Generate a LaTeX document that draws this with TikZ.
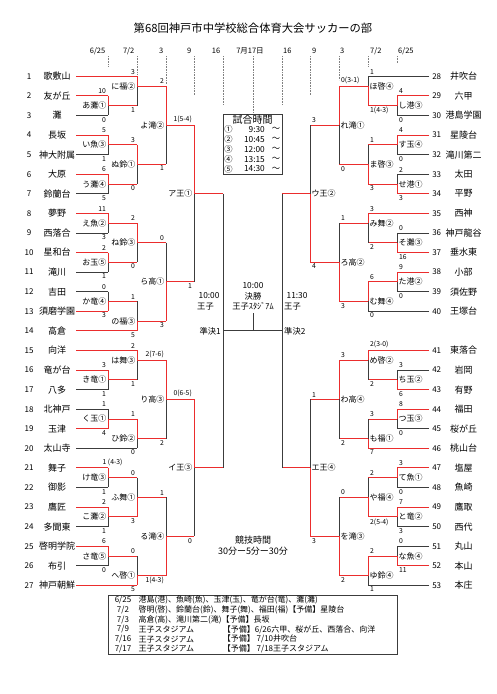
\documentclass[tikz,border=0pt]{standalone}
\usepackage{fontspec}
\setmainfont{Noto Sans CJK JP}
\definecolor{wred}{RGB}{235,45,45}
\definecolor{lgray}{RGB}{60,60,60}
\newcommand{\KY}[1]{76.3+9.79*(#1)}
% left match: xv, xout, ktop, kbot, kout, label, score top, score bottom, winner t/b
\newcommand{\LM}[9]{%
 \coordinate (L#1a#3) at (#1,{\KY{#3}});
 \coordinate (L#1o#3) at (#1,{\KY{#5}});
 \coordinate (L#1b#3) at (#1,{\KY{#4}});
 \coordinate (L#1x#3) at (#2,{\KY{#5}});
 \draw[top#9] (L#1a#3) -- (L#1o#3);
 \draw[bot#9] (L#1o#3) -- (L#1b#3);
 \draw[win] (L#1o#3) -- (L#1x#3);
 \node[mlab,anchor=east] (Lm#1n#3) at ([xshift=-1.5pt]L#1o#3) {#6};
 \node[score,anchor=south east] (Ls#1t#3) at ([xshift=-2pt,yshift=2pt]L#1a#3) {#7};
 \node[score,anchor=north east] (Ls#1b#3) at ([xshift=-2pt,yshift=-1.5pt]L#1b#3) {#8};
}
\newcommand{\RM}[9]{%
 \coordinate (R#1a#3) at (#1,{\KY{#3}});
 \coordinate (R#1o#3) at (#1,{\KY{#5}});
 \coordinate (R#1b#3) at (#1,{\KY{#4}});
 \coordinate (R#1x#3) at (#2,{\KY{#5}});
 \draw[top#9] (R#1a#3) -- (R#1o#3);
 \draw[bot#9] (R#1o#3) -- (R#1b#3);
 \draw[win] (R#1o#3) -- (R#1x#3);
 \node[mlab,anchor=west] (Rm#1n#3) at ([xshift=1.5pt]R#1o#3) {#6};
 \node[score,anchor=south west] (Rs#1t#3) at ([xshift=2pt,yshift=2pt]R#1a#3) {#7};
 \node[score,anchor=north west] (Rs#1b#3) at ([xshift=2pt,yshift=-1.5pt]R#1b#3) {#8};
}
% team: number, name, k, x end, style
\newcommand{\LT}[5]{%
 \coordinate (lt#1) at (76,{\KY{#3}});
 \coordinate (le#1) at (#4,{\KY{#3}});
 \draw[#5] (lt#1) -- (le#1);
 \node[tnum] (ln#1) at (29,{\KY{#3}}) {#1};
 \node[tname] (lna#1) at (57,{\KY{#3}}) {#2};
}
\newcommand{\RT}[5]{%
 \coordinate (rt#1) at (429,{\KY{#3}});
 \coordinate (re#1) at (#4,{\KY{#3}});
 \draw[#5] (rt#1) -- (re#1);
 \node[tnum] (rn#1) at (436.7,{\KY{#3}}) {#1};
 \node[tname] (rna#1) at (463.5,{\KY{#3}}) {#2};
}
\tikzset{
 win/.style={draw=wred, line width=0.9pt},
 lose/.style={draw=lgray, line width=0.8pt},
 topt/.style={win}, bott/.style={lose}, topb/.style={lose}, botb/.style={win},
 tnum/.style={font=\fontsize{8}{9}\selectfont, inner sep=0pt},
 tname/.style={font=\fontsize{9}{10}\selectfont, inner sep=0pt},
 mlab/.style={font=\fontsize{8}{9}\selectfont, inner sep=0pt},
 score/.style={font=\fontsize{6.8}{7}\selectfont, inner sep=0pt},
 hdr/.style={font=\fontsize{7.5}{8}\selectfont, inner sep=0pt},
 mid/.style={font=\fontsize{8.3}{9}\selectfont, inner sep=0pt},
 tbltext/.style={font=\fontsize{8}{9}\selectfont, inner sep=0pt},
 tick/.style={draw=gray, densely dotted, line width=0.6pt},
 frame/.style={draw=lgray, line width=0.8pt, inner sep=0pt, anchor=north west},
}
\begin{document}
\begin{tikzpicture}[x=1pt,y=-1pt]
\fill[white] (0,0) rectangle (496,694);
\useasboundingbox (0,0) rectangle (496,694);

% title
\node[font=\fontsize{11.3}{12}\selectfont, inner sep=0pt] (title) at (253,28) {第68回神戸市中学校総合体育大会サッカーの部};

% header dates
\node[hdr,anchor=east] (h1) at (105.5,51) {6/25};
\node[hdr,anchor=east] (h2) at (134.5,51) {7/2};
\node[hdr,anchor=east] (h3) at (163.5,51) {3};
\node[hdr,anchor=east] (h4) at (191.5,51) {9};
\node[hdr,anchor=east] (h5) at (220.5,51) {16};
\node[hdr] (h6) at (250,51) {7月17日};
\node[hdr,anchor=west] (h7) at (283,51) {16};
\node[hdr,anchor=west] (h8) at (312,51) {9};
\node[hdr,anchor=west] (h9) at (340,51) {3};
\node[hdr,anchor=west] (h10) at (370,51) {7/2};
\node[hdr,anchor=west] (h11) at (398,51) {6/25};

% dotted ticks
\draw[tick] (108,56) -- (108,67);
\draw[tick] (137,56) -- (137,74);
\draw[tick] (166,56) -- (166,84);
\draw[tick] (194,56) -- (194,95);
\draw[tick] (223,56) -- (223,105);
\draw[tick] (253,56) -- (253,113.5);
\draw[tick] (282,56) -- (282,105);
\draw[tick] (310,56) -- (310,95);
\draw[tick] (339,56) -- (339,80);
\draw[tick] (368,56) -- (368,67);
\draw[tick] (397,56) -- (397,63);

% left teams
\LT{1}{歌敷山}{0}{137}{win}
\LT{2}{友が丘}{2}{108}{win}
\LT{3}{灘}{4}{108}{lose}
\LT{4}{長坂}{6}{108}{win}
\LT{5}{神大附属}{8}{108}{lose}
\LT{6}{大原}{10}{108}{win}
\LT{7}{鈴蘭台}{12}{108}{lose}
\LT{8}{夢野}{14}{108}{win}
\LT{9}{西落合}{16}{108}{lose}
\LT{10}{星和台}{18}{108}{win}
\LT{11}{滝川}{20}{108}{lose}
\LT{12}{吉田}{22}{108}{lose}
\LT{13}{須磨学園}{24}{108}{win}
\LT{14}{高倉}{26}{137}{win}
\LT{15}{向洋}{28}{137}{win}
\LT{16}{竜が台}{30}{108}{win}
\LT{17}{八多}{32}{108}{lose}
\LT{18}{北神戸}{34}{108}{lose}
\LT{19}{玉津}{36}{108}{win}
\LT{20}{太山寺}{38}{137}{lose}
\LT{21}{舞子}{40}{108}{win}
\LT{22}{御影}{42}{108}{lose}
\LT{23}{鷹匠}{44}{108}{win}
\LT{24}{多聞東}{46}{108}{lose}
\LT{25}{啓明学院}{48}{108}{win}
\LT{26}{布引}{50}{108}{lose}
\LT{27}{神戸朝鮮}{52}{137}{win}

% right teams
\RT{28}{井吹台}{0}{368}{lose}
\RT{29}{六甲}{2}{397}{win}
\RT{30}{港島学園}{4}{397}{lose}
\RT{31}{星陵台}{6}{397}{win}
\RT{32}{滝川第二}{8}{397}{lose}
\RT{33}{太田}{10}{397}{lose}
\RT{34}{平野}{12}{397}{win}
\RT{35}{西神}{14}{368}{win}
\RT{36}{神戸龍谷}{16}{397}{lose}
\RT{37}{垂水東}{18}{397}{win}
\RT{38}{小部}{20}{397}{win}
\RT{39}{須佐野}{22}{397}{lose}
\RT{40}{王塚台}{24}{368}{lose}
\RT{41}{東落合}{28}{368}{win}
\RT{42}{岩岡}{30}{397}{lose}
\RT{43}{有野}{32}{397}{win}
\RT{44}{福田}{34}{397}{win}
\RT{45}{桜が丘}{36}{397}{lose}
\RT{46}{桃山台}{38}{368}{win}
\RT{47}{塩屋}{40}{397}{win}
\RT{48}{魚崎}{42}{397}{lose}
\RT{49}{鷹取}{44}{397}{win}
\RT{50}{西代}{46}{397}{lose}
\RT{51}{丸山}{48}{397}{lose}
\RT{52}{本山}{50}{397}{win}
\RT{53}{本庄}{52}{368}{lose}

% left round 1
\LM{108}{137}{2}{4}{3}{あ灘①}{10}{0}{t}
\LM{108}{137}{6}{8}{7}{い魚③}{5}{1}{t}
\LM{108}{137}{10}{12}{11}{う灘④}{6}{5}{t}
\LM{108}{137}{14}{16}{15}{え魚②}{11}{3}{t}
\LM{108}{137}{18}{20}{19}{お玉⑤}{2}{1}{t}
\LM{108}{137}{22}{24}{23}{か竜④}{0}{3}{b}
\LM{108}{137}{30}{32}{31}{き竜①}{3}{1}{t}
\LM{108}{137}{34}{36}{35}{く玉①}{1}{4}{b}
\LM{108}{137}{40}{42}{41}{け竜③}{}{1}{t}
\node[score,anchor=south west] (s21) at (102.5,{\KY{40}-2}) {1 (4-3)};
\LM{108}{137}{44}{46}{45}{こ灘②}{2}{1}{t}
\LM{108}{137}{48}{50}{49}{さ竜⑤}{6}{0}{t}
% left round 2
\LM{137}{166}{0}{3}{1}{に福②}{3}{1}{t}
\LM{137}{166}{7}{11}{9}{ぬ鈴①}{3}{0}{t}
\LM{137}{166}{15}{19}{17}{ね鈴③}{2}{0}{t}
\LM{137}{166}{23}{26}{25}{の福③}{1}{5}{b}
\LM{137}{166}{28}{31}{29}{は舞③}{2}{1}{t}
\LM{137}{166}{35}{38}{37}{ひ鈴②}{1}{0}{t}
\LM{137}{166}{41}{45}{43}{ふ舞①}{0}{3}{b}
\LM{137}{166}{49}{52}{51}{へ啓①}{0}{5}{b}
% left round 3
\LM{166}{194}{1}{9}{5}{よ滝②}{2}{1}{t}
\LM{166}{194}{17}{25}{21}{ら高①}{0}{3}{b}
\LM{166}{194}{29}{37}{33}{り高③}{2(7-6)}{2}{t}
\LM{166}{194}{43}{51}{47}{る滝④}{1}{1(4-3)}{b}
% left round 4
\LM{194}{223}{5}{21}{12}{ア王①}{1(5-4)}{1}{t}
\LM{194}{223}{33}{47}{40}{イ王③}{0(6-5)}{0}{t}

% right round 1
\RM{397}{368}{2}{4}{3}{し港③}{4}{0}{t}
\RM{397}{368}{6}{8}{7}{す玉④}{4}{0}{t}
\RM{397}{368}{10}{12}{11}{せ港①}{2}{3}{b}
\RM{397}{368}{16}{18}{17}{そ灘③}{0}{16}{b}
\RM{397}{368}{20}{22}{21}{た港②}{9}{0}{t}
\RM{397}{368}{30}{32}{31}{ち玉②}{3}{6}{b}
\RM{397}{368}{34}{36}{35}{つ玉③}{8}{0}{t}
\RM{397}{368}{40}{42}{41}{て魚①}{3}{0}{t}
\RM{397}{368}{44}{46}{45}{と竜②}{7}{3}{t}
\RM{397}{368}{48}{50}{49}{な魚④}{0}{11}{b}
% right round 2
\RM{368}{339}{0}{3}{1}{ほ啓④}{1}{1(4-3)}{b}
\RM{368}{339}{7}{11}{9}{ま啓③}{1}{3}{b}
\RM{368}{339}{14}{17}{15}{み舞②}{3}{2}{t}
\RM{368}{339}{21}{24}{23}{む舞④}{6}{0}{t}
\RM{368}{339}{28}{31}{29}{め啓②}{2(3-0)}{2}{t}
\RM{368}{339}{35}{38}{37}{も福①}{3}{7}{b}
\RM{368}{339}{41}{45}{43}{や福④}{2}{2(5-4)}{b}
\RM{368}{339}{49}{52}{51}{ゆ鈴④}{2}{1}{t}
% right round 3
\RM{339}{310}{1}{9}{5}{れ滝①}{0(3-1)}{0}{t}
\RM{339}{310}{15}{23}{19}{ろ高②}{1}{3}{b}
\RM{339}{310}{29}{37}{33}{わ高④}{3}{2}{t}
\RM{339}{310}{43}{51}{47}{を滝③}{0}{2}{b}
% right round 4
\RM{310}{282}{5}{19}{12}{ウ王②}{3}{4}{b}
\RM{310}{282}{33}{47}{40}{エ王④}{1}{3}{b}

% semifinals and final
\coordinate (sfL) at (223,{\KY{26}});
\coordinate (sfR) at (282,{\KY{26}});
\coordinate (finT) at (253,313);
\coordinate (finB) at (253,{\KY{26}});
\draw[lose] (L194x5) -- (L194x33);
\draw[lose] (R310x5) -- (R310x33);
\draw[lose] (sfL) -- (sfR);
\draw[lose] (finT) -- (finB);
\node[mid,anchor=east] (sf1) at (221,{\KY{26}}) {準決1};
\node[mid,anchor=west] (sf2) at (284,{\KY{26}}) {準決2};
\node[mid,anchor=west] (t1a) at (198.5,296) {10:00};
\node[mid,anchor=west] (t1b) at (197,306.7) {王子};
\node[mid,anchor=west] (t2a) at (286.5,296) {11:30};
\node[mid,anchor=west] (t2b) at (284,306.7) {王子};
\node[mid] (fa) at (253,286) {10:00};
\node[mid] (fb) at (253,296.7) {決勝};
\node[mid] (fc) at (253,306.7) {王子ｽﾀｼﾞｱﾑ};

% match time box
\node[frame, minimum width=59pt, minimum height=60pt] (tbox) at (223,113.5) {};
\node[font=\fontsize{10}{11}\selectfont, inner sep=0pt] (tbh) at (252.5,120) {試合時間};
\foreach \i/\c/\t/\yy in {1/①/9:30/129.3, 2/②/10:45/139.3, 3/③/12:00/149.3, 4/④/13:15/159.3, 5/⑤/14:30/169}{
 \node[mid] (tc\i) at (228.5,\yy) {\c};
 \node[mid,anchor=east] (tt\i) at (265,\yy) {\t};
 \node[mid] (tw\i) at (276,\yy) {〜};
}

% game time
\node[font=\fontsize{9}{10}\selectfont, inner sep=0pt] (gt1) at (253,540.5) {競技時間};
\node[font=\fontsize{9}{10}\selectfont, inner sep=0pt] (gt2) at (253,551) {30分ー5分ー30分};

% bottom table
\node[frame, line width=0.9pt, minimum width=289pt, minimum height=59pt] (tbl) at (107.7,595) {};
\node[tbltext] (d1) at (123,600) {6/25};
\node[tbltext] (d2) at (123,609.8) {7/2};
\node[tbltext] (d3) at (123,619.6) {7/3};
\node[tbltext] (d4) at (123,629.4) {7/9};
\node[tbltext] (d5) at (123,639.2) {7/16};
\node[tbltext] (d6) at (123,649) {7/17};
\node[tbltext,anchor=west] (r1) at (138.5,600) {港島(港)、魚崎(魚)、玉津(玉)、竜が台(竜)、灘(灘)};
\node[tbltext,anchor=west] (r2) at (138.5,609.8) {啓明(啓)、鈴蘭台(鈴)、舞子(舞)、福田(福)【予備】星陵台};
\node[tbltext,anchor=west] (r3) at (138.5,619.6) {高倉(高)、滝川第二(滝)【予備】長坂};
\node[tbltext,anchor=west] (r4) at (138.5,629.4) {王子スタジアム};
\node[tbltext,anchor=west] (r5) at (138.5,639.2) {王子スタジアム};
\node[tbltext,anchor=west] (r6) at (138.5,649) {王子スタジアム};
\node[tbltext,anchor=west] (p4) at (222.7,629.4) {【予備】6/26六甲、桜が丘、西落合、向洋};
\node[tbltext,anchor=west] (p5) at (222.7,639.2) {【予備】 7/10井吹台};
\node[tbltext,anchor=west] (p6) at (222.7,649) {【予備】 7/18王子スタジアム};
\end{tikzpicture}
\end{document}
